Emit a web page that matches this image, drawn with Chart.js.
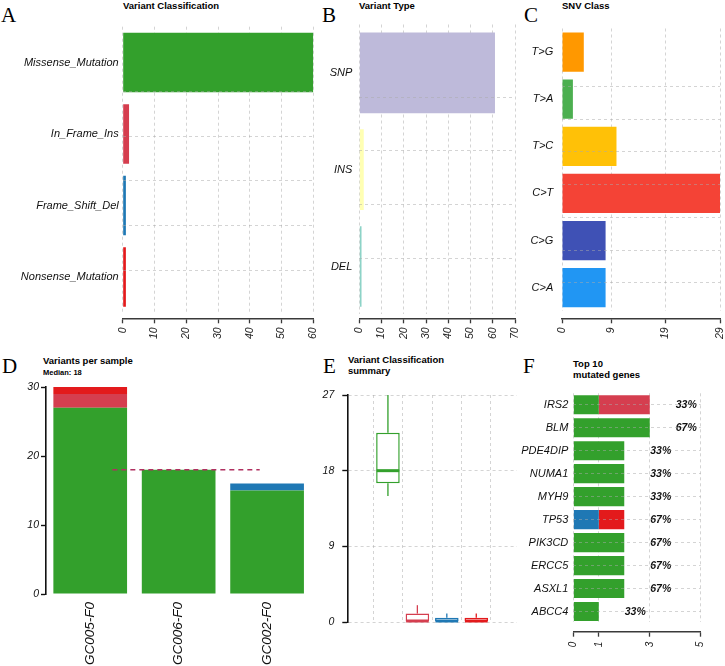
<!DOCTYPE html>
<html>
<head>
<meta charset="utf-8">
<script src="https://cdn.jsdelivr.net/npm/chart.js@4/dist/chart.umd.min.js"></script>
<style>
html,body{margin:0;padding:0;background:#fff;}
#root{position:relative;width:725px;height:666px;overflow:hidden;font-family:'Liberation Sans',Arial,sans-serif;background:#fff;}
.pane{position:absolute;}
.pane canvas{display:block;}
.letter{position:absolute;font-family:'Liberation Serif','Times New Roman',serif;font-size:21px;line-height:1;color:#000;white-space:nowrap;}
.ttl{position:absolute;font-weight:bold;font-size:9.5px;line-height:11px;color:#000;white-space:nowrap;}
.sub{position:absolute;font-weight:bold;font-size:7.5px;line-height:9px;color:#000;white-space:nowrap;}
</style>
</head>
<body>
<div id="root">
  <div class="letter" style="left:1px;top:5px;">A</div>
  <div class="letter" style="left:322px;top:5px;">B</div>
  <div class="letter" style="left:524px;top:5px;">C</div>
  <div class="letter" style="left:2px;top:355.5px;">D</div>
  <div class="letter" style="left:323px;top:355.5px;">E</div>
  <div class="letter" style="left:523px;top:355.5px;">F</div>

  <div class="ttl" style="left:123px;top:0px;">Variant Classification</div>
  <div class="ttl" style="left:359px;top:0px;">Variant Type</div>
  <div class="ttl" style="left:562px;top:0px;">SNV Class</div>
  <div class="ttl" style="left:43px;top:354.7px;">Variants per sample</div>
  <div class="sub" id="medianLabel" style="left:43px;top:368px;"></div>
  <div class="ttl" style="left:348px;top:355px;line-height:10.7px;">Variant Classification<br>summary</div>
  <div class="ttl" style="left:573px;top:358.8px;line-height:10.7px;">Top 10<br>mutated genes</div>
</div>
<script>
// ================= DATA =================
const classNames  = ['Missense_Mutation', 'In_Frame_Ins', 'Frame_Shift_Del', 'Nonsense_Mutation'];
const classColors = ['#33A02C', '#D53E4F', '#1F78B4', '#E31A1C'];
const classTotals = [60, 2, 1, 1];
const classTicks  = [0, 10, 20, 30, 40, 50, 60];

const typeNames  = ['SNP', 'INS', 'DEL'];
const typeColors = ['#BEBADA', '#FFFFB3', '#8DD3C7'];
const typeCounts = [61, 2, 1];
const typeTicks  = [0, 10, 20, 30, 40, 50, 60, 70];

const snvNames  = ['T>G', 'T>A', 'T>C', 'C>T', 'C>G', 'C>A'];
const snvColors = ['#FF9800', '#4CAF50', '#FFC107', '#F44336', '#3F51B5', '#2196F3'];
const snvCounts = [4, 2, 10, 29, 8, 8];
const snvTicks  = [0, 9, 19, 29];

const samples             = ['GC005-F0', 'GC006-F0', 'GC002-F0'];
const sampleMissense      = [27, 18, 15];
const sampleInFrameIns    = [2, 0, 0];
const sampleFrameShiftDel = [0, 0, 1];
const sampleNonsense      = [1, 0, 0];
const sampleTicks         = [0, 10, 20, 30];

const summaryTicks = [0, 9, 18, 27];

const genes             = ['IRS2', 'BLM', 'PDE4DIP', 'NUMA1', 'MYH9', 'TP53', 'PIK3CD', 'ERCC5', 'ASXL1', 'ABCC4'];
const geneMissense      = [1, 3, 2, 2, 2, 0, 2, 2, 2, 1];
const geneInFrameIns    = [2, 0, 0, 0, 0, 0, 0, 0, 0, 0];
const geneFrameShiftDel = [0, 0, 0, 0, 0, 1, 0, 0, 0, 0];
const geneNonsense      = [0, 0, 0, 0, 0, 1, 0, 0, 0, 0];
const geneFreq          = ['33%', '67%', '33%', '33%', '33%', '67%', '67%', '67%', '67%', '33%'];
const geneTicks         = [0, 1, 3, 5];

// ================= HELPERS =================
const SANS = "'Liberation Sans', Arial, sans-serif";
const GRID = 'rgba(170,170,170,0.5)';
const DASH = [3, 3];
const AXC = '#3a3a3a';
Chart.defaults.font.family = SANS;
Chart.defaults.color = '#111';
const root = document.getElementById('root');

function addCanvas(rect) {
  const [l, t, w, h] = rect;
  const d = document.createElement('div');
  d.className = 'pane';
  d.style.left = l + 'px'; d.style.top = t + 'px';
  d.style.width = w + 'px'; d.style.height = h + 'px';
  const c = document.createElement('canvas');
  c.width = w; c.height = h;
  c.style.width = w + 'px'; c.style.height = h + 'px';
  d.appendChild(c); root.appendChild(d);
  return c.getContext('2d');
}
function geom(rect, area) {
  const [l, t, w, h] = rect, [L, T, R, B] = area;
  return { padding: { left: 0, top: T - t, right: (l + w) - R, bottom: 0 }, leftW: L - l, bottomH: (t + h) - B };
}
function fixTicks(arr) { return s => { s.ticks = arr.map(v => ({ value: v })); }; }
function fixSize(prop, val) {
  return s => { s[prop] = val; s.paddingLeft = 0; s.paddingRight = 0; s.paddingTop = 0; s.paddingBottom = 0; };
}
function intTicks(from, to) {
  return s => { const t = []; for (let v = from; v <= to; v++) t.push({ value: v }); s.ticks = t; };
}
const baseOpts = (g) => ({
  responsive: false, animation: false, devicePixelRatio: 1,
  layout: { padding: g.padding },
  plugins: { legend: { display: false }, tooltip: { enabled: false }, title: { display: false } }
});
const spacer = (h) => ({
  axis: 'x', type: 'linear', position: 'bottom', weight: 0, min: 0, max: 1,
  grid: { display: false, drawTicks: false }, border: { display: false }, ticks: { display: false },
  afterFit: fixSize('height', h)
});

// ============ Horizontal bar panels (A, B, C) ============
function classBar(rect, area, axisLineY, labels, values, colors, ticks, labelPad) {
  const g = geom(rect, area);
  const sp = axisLineY - area[3];
  const n = labels.length;
  const gmin = 0.35, gmax = 0.35 + 1.2 * n;
  const opts = baseOpts(g);
  opts.indexAxis = 'y';
  opts.scales = {
    xs: spacer(sp),
    x: {
      axis: 'x', type: 'linear', position: 'bottom', weight: 1,
      min: ticks[0], max: ticks[ticks.length - 1],
      afterBuildTicks: fixTicks(ticks),
      grid: { color: GRID, lineWidth: 1, tickColor: AXC, tickLength: 5, tickWidth: 1.3 },
      border: { display: true, color: AXC, width: 1.4, dash: DASH },
      ticks: { font: { size: 10.5, style: 'italic' }, color: '#222', minRotation: 90, maxRotation: 90, autoSkip: false, padding: 4 },
      afterFit: fixSize('height', g.bottomH - sp)
    },
    y: {
      axis: 'y', type: 'category', position: 'left', weight: 1,
      grid: { display: false, drawTicks: false, tickLength: 0 }, border: { display: false },
      ticks: { font: { size: 11, style: 'italic' }, color: '#111', padding: labelPad, autoSkip: false },
      afterFit: fixSize('width', g.leftW)
    },
    yg: {
      axis: 'y', type: 'linear', position: 'left', weight: 0, min: gmin, max: gmax,
      afterBuildTicks: intTicks(1, n),
      grid: { color: GRID, drawTicks: false, z: 1 }, border: { display: false, dash: DASH },
      ticks: { display: false },
      afterFit: fixSize('width', 0)
    }
  };
  new Chart(addCanvas(rect), {
    type: 'bar',
    data: { labels: labels, datasets: [{ data: values, backgroundColor: colors, borderWidth: 0,
      barPercentage: 1 / 1.2, categoryPercentage: 1, xAxisID: 'x', yAxisID: 'y' }] },
    options: opts
  });
}

classBar([0, 0, 330, 345], [122.7, 26.7, 313.3, 312.7], 318.3, classNames, classTotals, classColors, classTicks, 4);
classBar([318, 0, 207, 345], [359.3, 24.5, 515, 314.9], 318.3, typeNames, typeCounts, typeColors, typeTicks, 7);
classBar([520, 0, 205, 345], [562, 28.5, 720, 311.2], 318.3, snvNames, snvCounts, snvColors, snvTicks, 8.7);

// ============ D: Variants per sample ============
const sampleSeries = [sampleMissense, sampleInFrameIns, sampleFrameShiftDel, sampleNonsense];
const sampleTotals = samples.map((_, i) => sampleSeries.reduce((a, s) => a + s[i], 0));
const sortedTot = sampleTotals.slice().sort((a, b) => a - b);
const mid = Math.floor(sortedTot.length / 2);
const medianTotal = sortedTot.length % 2 ? sortedTot[mid] : (sortedTot[mid - 1] + sortedTot[mid]) / 2;
document.getElementById('medianLabel').textContent = 'Median: ' + medianTotal;

(function () {
  const rect = [0, 345, 330, 321];
  const g = geom(rect, [46, 387, 311.3, 594]);
  const opts = baseOpts(g);
  opts.scales = {
    x: {
      type: 'category', position: 'bottom', stacked: true,
      grid: { display: false, drawTicks: false, tickLength: 0 }, border: { display: false },
      ticks: { font: { size: 13.5, style: 'italic' }, color: '#111', minRotation: 90, maxRotation: 90, autoSkip: false, padding: 8 },
      afterFit: fixSize('height', g.bottomH)
    },
    y: {
      type: 'linear', position: 'left', stacked: true, min: sampleTicks[0], max: sampleTicks[sampleTicks.length - 1],
      afterBuildTicks: fixTicks(sampleTicks),
      grid: { drawOnChartArea: false, drawTicks: true, tickLength: 5, tickWidth: 1.4, tickColor: '#111', color: '#111' },
      border: { display: true, color: '#111', width: 1.6 },
      ticks: { font: { size: 10.5, style: 'italic' }, color: '#111', padding: 2 },
      afterFit: fixSize('width', g.leftW)
    }
  };
  const medianLine = {
    id: 'medianLine',
    afterDatasetsDraw(chart) {
      const { ctx, scales: { x, y } } = chart;
      // R barplot coordinates: centres at 0.7 + 1.2*i ; line spans x = 1 .. n
      const x1 = x.getPixelForValue((1 - 0.7) / 1.2);
      const x2 = x.getPixelForValue((samples.length - 0.7) / 1.2);
      const yy = y.getPixelForValue(medianTotal);
      ctx.save();
      ctx.strokeStyle = '#B03060'; ctx.lineWidth = 1.5; ctx.setLineDash([5, 4]);
      ctx.beginPath(); ctx.moveTo(x1, yy); ctx.lineTo(x2, yy); ctx.stroke();
      ctx.restore();
    }
  };
  new Chart(addCanvas(rect), {
    type: 'bar',
    data: {
      labels: samples,
      datasets: sampleSeries.map((s, k) => ({
        label: classNames[k], data: s, backgroundColor: classColors[k], borderWidth: 0,
        barPercentage: 1 / 1.2, categoryPercentage: 1
      }))
    },
    options: opts,
    plugins: [medianLine]
  });
})();

// ============ E: Variant Classification summary (boxplot) ============
function fivenum(arr) {
  const x = arr.slice().sort((a, b) => a - b), n = x.length;
  const n4 = Math.floor((n + 3) / 2) / 2;
  const d = [1, n4, (n + 1) / 2, n + 1 - n4, n];
  return d.map(v => 0.5 * (x[Math.floor(v) - 1] + x[Math.ceil(v) - 1]));
}
(function () {
  const rect = [318, 345, 207, 321];
  const g = geom(rect, [347.3, 395, 516.9, 622]);
  const stats = sampleSeries.map(s => fivenum(s));
  const opts = baseOpts(g);
  opts.scales = {
    x: {
      type: 'linear', position: 'bottom', min: 0.34, max: classNames.length + 0.66,
      afterBuildTicks: s => { s.ticks = classNames.map((_, i) => ({ value: i + 1 })); },
      grid: { color: GRID, drawTicks: false }, border: { display: false, dash: DASH },
      ticks: { display: false },
      afterFit: fixSize('height', g.bottomH)
    },
    y: {
      type: 'linear', position: 'left', min: summaryTicks[0], max: summaryTicks[summaryTicks.length - 1],
      afterBuildTicks: fixTicks(summaryTicks),
      grid: { color: GRID, tickColor: '#111', tickLength: 5, tickWidth: 1.4 },
      border: { display: true, color: '#111', width: 1.6, dash: DASH },
      ticks: { font: { size: 10.5, style: 'italic' }, color: '#111', padding: 8 },
      afterFit: fixSize('width', g.leftW)
    }
  };
  const whiskers = {
    id: 'whiskers',
    afterDatasetsDraw(chart) {
      const { ctx, scales: { x, y } } = chart;
      stats.forEach((st, i) => {
        const cx = x.getPixelForValue(i + 1);
        const hw = (x.getPixelForValue(i + 1.4) - cx);
        ctx.save();
        ctx.strokeStyle = classColors[i];
        ctx.lineWidth = 1.3;
        ctx.beginPath();
        if (st[4] > st[3]) { ctx.moveTo(cx, y.getPixelForValue(st[3])); ctx.lineTo(cx, y.getPixelForValue(st[4])); }
        if (st[0] < st[1]) { ctx.moveTo(cx, y.getPixelForValue(st[1])); ctx.lineTo(cx, y.getPixelForValue(st[0])); }
        ctx.stroke();
        ctx.lineWidth = 3;
        ctx.beginPath();
        const my = y.getPixelForValue(st[2]) - (st[2] === st[1] && st[2] === 0 ? 1 : 0);
        ctx.moveTo(cx - hw + 0.5, my); ctx.lineTo(cx + hw - 0.5, my);
        ctx.stroke();
        ctx.restore();
      });
    }
  };
  new Chart(addCanvas(rect), {
    type: 'bar',
    data: {
      datasets: [{
        data: stats.map((st, i) => ({ x: i + 1, y: [st[1], st[3]] })),
        backgroundColor: '#ffffff', borderColor: classColors, borderWidth: 1.5, borderSkipped: false,
        barPercentage: 0.8, categoryPercentage: 1
      }]
    },
    options: opts,
    plugins: [whiskers]
  });
})();

// ============ F: Top 10 mutated genes ============
(function () {
  const rect = [520, 345, 205, 321];
  const area = [573.3, 393.3, 700.7, 623];
  const g = geom(rect, area);
  const sp = 631.7 - area[3];
  const geneSeries = [geneMissense, geneInFrameIns, geneFrameShiftDel, geneNonsense];
  const opts = baseOpts(g);
  opts.indexAxis = 'y';
  opts.scales = {
    xs: spacer(sp),
    x: {
      axis: 'x', type: 'linear', position: 'bottom', weight: 1, stacked: true,
      min: geneTicks[0], max: geneTicks[geneTicks.length - 1],
      afterBuildTicks: fixTicks(geneTicks),
      grid: { color: GRID, tickColor: AXC, tickLength: 5, tickWidth: 1.3 },
      border: { display: true, color: AXC, width: 1.4, dash: DASH },
      ticks: { font: { size: 10, style: 'italic' }, color: '#222', minRotation: 90, maxRotation: 90, autoSkip: false, padding: 5 },
      afterFit: fixSize('height', g.bottomH - sp)
    },
    y: {
      axis: 'y', type: 'category', position: 'left', stacked: true,
      grid: { color: GRID, offset: false, drawTicks: false, tickLength: 0, z: 1 }, border: { display: false, dash: DASH },
      ticks: { font: { size: 11, style: 'italic' }, color: '#111', padding: 5, autoSkip: false },
      afterFit: fixSize('width', g.leftW)
    }
  };
  const pctLabels = {
    id: 'pctLabels',
    afterDatasetsDraw(chart) {
      const { ctx, scales: { x, y } } = chart;
      ctx.save();
      ctx.font = "italic bold 10.5px " + SANS;
      ctx.fillStyle = '#111'; ctx.textAlign = 'left'; ctx.textBaseline = 'middle';
      genes.forEach((gname, i) => {
        const tot = geneSeries.reduce((a, s) => a + s[i], 0);
        ctx.fillText(geneFreq[i], x.getPixelForValue(tot) + 26, y.getPixelForValue(i) + 0.5);
      });
      ctx.restore();
    }
  };
  new Chart(addCanvas(rect), {
    type: 'bar',
    data: {
      labels: genes,
      datasets: geneSeries.map((s, k) => ({
        label: classNames[k], data: s, backgroundColor: classColors[k], borderWidth: 0,
        barPercentage: 1 / 1.2, categoryPercentage: 1, xAxisID: 'x', yAxisID: 'y'
      }))
    },
    options: opts,
    plugins: [pctLabels]
  });
})();
</script>
</body>
</html>
